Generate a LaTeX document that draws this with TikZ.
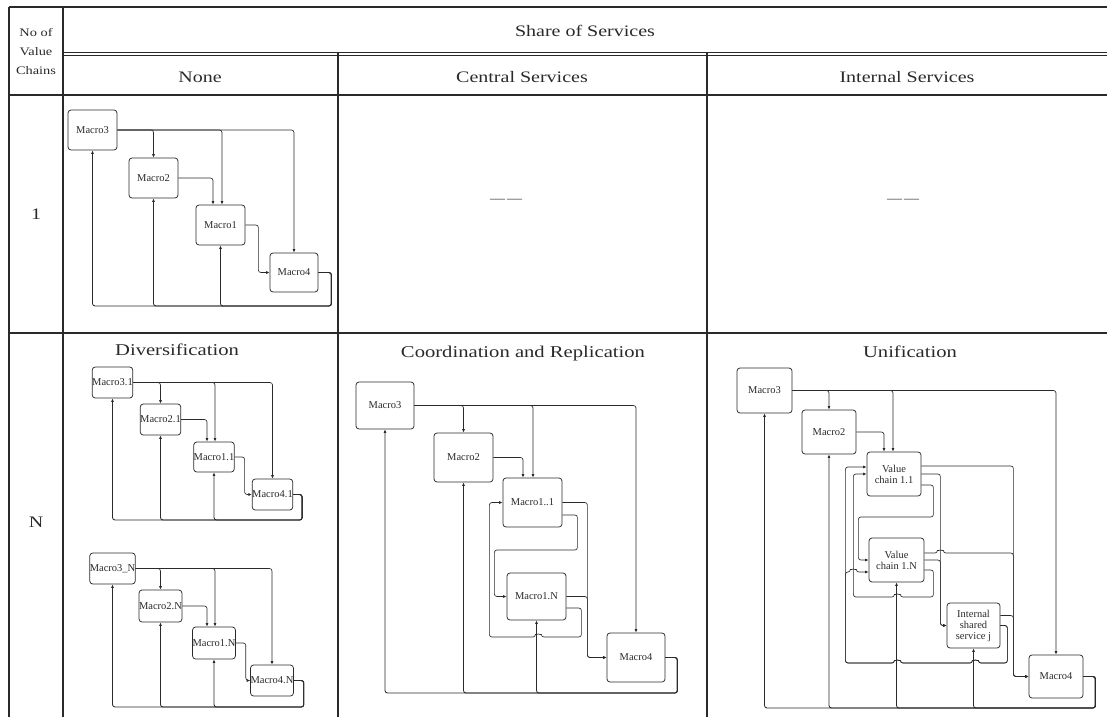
\documentclass[tikz,border=0pt]{standalone}
\usepackage{fontspec}
\setmainfont{Liberation Serif}
\newfontfamily\wide[FakeStretch=1.25]{Liberation Serif}
\usetikzlibrary{arrows.meta,calc}
\definecolor{ink}{HTML}{2A2A2A}
\begin{document}
\begin{tikzpicture}[x=1pt,y=-1pt,
  grid/.style={line width=1.4pt, ink},
  box/.style={draw=ink, rounded corners=3pt, line width=0.75pt, inner sep=0pt,
    align=center, text=ink, font=\fontsize{10.5}{11}\selectfont},
  link/.style={draw=ink, line width=0.65pt, rounded corners=2.5pt,
    -{Latex[length=3.5pt,width=3pt]}},
  fback/.style={link, line width=0.85pt},
  head/.style={text=ink, font=\wide\fontsize{16}{18}\selectfont},
  title/.style={text=ink, font=\wide\fontsize{16.5}{18}\selectfont},
  side/.style={text=ink, align=center, font=\wide\fontsize{11.5}{19}\selectfont},
  void/.style={text=black!60, font=\wide\bfseries\fontsize{12}{14}\selectfont}]
\useasboundingbox (0,0) rectangle (1107,717);

% ---------- table frame ----------
\draw[grid] (9,7) -- (1107,7);
\draw[grid] (9,7) -- (9,717);
\draw[grid] (63,7) -- (63,717);
\draw[grid] (63,52.5) -- (1107,52.5);
\draw[ink, line width=0.6pt] (63,55.5) -- (1107,55.5);
\draw[grid] (9,95) -- (1107,95);
\draw[grid] (9,333) -- (1107,333);
\draw[grid] (338,53) -- (338,717);
\draw[grid] (707,53) -- (707,717);

% ---------- headers ----------
\node[side] (hdrA) at (36,52) {No of\\Value\\Chains};
\node[head] (hdrB) at (585,31) {Share of Services};
\node[head] (hdrC) at (200,77) {None};
\node[head] (hdrD) at (522,77) {Central Services};
\node[head] (hdrE) at (907,77) {Internal Services};
\node[head] (row1) at (36,214) {1};
\node[head] (rowN) at (36,522) {N};
\node[void] (emptyC) at (506,201) {—\kern2pt—};
\node[void] (emptyI) at (903,201) {—\kern2pt—};
\node[title, anchor=base] (tDiv) at (177,355) {Diversification};
\node[title, anchor=base] (tCoo) at (523,357) {Coordination and Replication};
\node[title, anchor=base] (tUni) at (910,357) {Unification};

% ---------- one value chain, no shared services ----------
\node[box, minimum width=49pt, minimum height=40pt] (a3) at (92.5,130) {Macro3};
\node[box, minimum width=49pt, minimum height=40pt] (a2) at (153.5,178) {Macro2};
\node[box, minimum width=49pt, minimum height=40pt] (a1) at (220.5,225) {Macro1};
\node[box, minimum width=48pt, minimum height=39pt] (a4) at (294,272.5) {Macro4};
\draw[link] (a3.east) -| (a4.north);
\draw[link] (a3.east) -| (a2.north);
\draw[link] (a3.east) -| ($(a1.north)+(1.5,0)$);
\draw[link] (a2.east) -| ($(a1.north)+(-7.5,0)$);
\draw[link] (a1.east) -- ++(13,0) |- (a4.west);
\draw[fback] (a4.east) -- ++(13,0) -- ++(0,33.5) -| (a3.south);
\draw[fback] (a4.east) -- ++(13,0) -- ++(0,33.5) -| (a2.south);
\draw[fback] (a4.east) -- ++(13,0) -- ++(0,33.5) -| (a1.south);

% ---------- diversification: chain 1 ----------
\node[box, minimum width=39pt, minimum height=31pt] (d3) at (112.5,382.5) {Macro3.1};
\node[box, minimum width=37pt, minimum height=31pt] (d2) at (160.5,419.5) {Macro2.1};
\node[box, minimum width=38pt, minimum height=30pt] (d1) at (214,457) {Macro1.1};
\node[box, minimum width=39pt, minimum height=31pt] (d4) at (272.5,494.5) {Macro4.1};
\draw[link] (d3.east) -| (d4.north);
\draw[link] (d3.east) -| (d2.north);
\draw[link] (d3.east) -| ($(d1.north)+(1,0)$);
\draw[link] (d2.east) -| ($(d1.north)+(-7,0)$);
\draw[link] (d1.east) -- ++(10,0) |- (d4.west);
\draw[fback] (d4.east) -- ++(9,0) -- ++(0,25.5) -| (d3.south);
\draw[fback] (d4.east) -- ++(9,0) -- ++(0,25.5) -| (d2.south);
\draw[fback] (d4.east) -- ++(9,0) -- ++(0,25.5) -| (d1.south);

% ---------- diversification: chain N ----------
\node[box, minimum width=39pt, minimum height=31pt] (e3) at (112.5,568.5) {Macro3\_N};
\node[box, minimum width=37pt, minimum height=32pt] (e2) at (160.5,606) {Macro2.N};
\node[box, minimum width=38pt, minimum height=32pt] (e1) at (214,643) {Macro1.N};
\node[box, minimum width=38pt, minimum height=31pt] (e4) at (272,680.5) {Macro4.N};
\draw[link] (e3.east) -| (e4.north);
\draw[link] (e3.east) -| (e2.north);
\draw[link] (e3.east) -| ($(e1.north)+(1,0)$);
\draw[link] (e2.east) -| ($(e1.north)+(-7,0)$);
\draw[link] (e1.east) -- ++(10,0) |- (e4.west);
\draw[fback] (e4.east) -- ++(10,0) -- ++(0,26.5) -| (e3.south);
\draw[fback] (e4.east) -- ++(10,0) -- ++(0,26.5) -| (e2.south);
\draw[fback] (e4.east) -- ++(10,0) -- ++(0,26.5) -| (e1.south);

% ---------- coordination and replication ----------
\node[box, minimum width=58pt, minimum height=47pt] (c3) at (385,405.5) {Macro3};
\node[box, minimum width=59pt, minimum height=49pt] (c2) at (463.5,457.5) {Macro2};
\node[box, minimum width=59pt, minimum height=49pt] (c11) at (532.5,502.5) {Macro1..1};
\node[box, minimum width=59pt, minimum height=47pt] (c1n) at (536.5,596.5) {Macro1.N};
\node[box, minimum width=58pt, minimum height=49pt] (c4) at (636,657.5) {Macro4};
\draw[link] (c3.east) -| (c4.north);
\draw[link] (c3.east) -| (c2.north);
\draw[link] (c3.east) -| ($(c11.north)+(0.5,0)$);
\draw[link] (c2.east) -| ($(c11.north)+(-9.5,0)$);
\draw[link] (c11.east) -- ++(25,0) |- (c4.west);
\draw[link] (c1n.east) -- ++(21,0) |- (c4.west);
\draw[link] ($(c11.east)+(0,12.5)$) -- ++(15,0) -- ++(0,35) -- ++(-83,0) |- (c1n.west);
\draw[link] ($(c1n.east)+(0,11.5)$) -- ++(15,0) -- ++(0,29) -- ++(-40,0)
  arc[start angle=0, end angle=180, radius=3pt] -- ++(-46,0) |- (c11.west);
\draw[fback] (c4.east) -- ++(12,0) -- ++(0,35.5) -| (c3.south);
\draw[fback] (c4.east) -- ++(12,0) -- ++(0,35.5) -| (c2.south);
\draw[fback] (c4.east) -- ++(12,0) -- ++(0,35.5) -| (c1n.south);

% ---------- unification ----------
\node[box, minimum width=55pt, minimum height=45pt] (u3) at (764.5,390.5) {Macro3};
\node[box, minimum width=54pt, minimum height=44pt] (u2) at (829,432) {Macro2};
\node[box, minimum width=54pt, minimum height=44pt] (v1) at (894,474) {Value\\chain 1.1};
\node[box, minimum width=55pt, minimum height=44pt] (vn) at (896.5,560) {Value\\chain 1.N};
\node[box, minimum width=53pt, minimum height=45pt] (is) at (973.5,625.5) {Internal\\shared\\service j};
\node[box, minimum width=54pt, minimum height=43pt] (u4) at (1056,676.5) {Macro4};
\draw[link] (u3.east) -| (u4.north);
\draw[link] (u3.east) -| (u2.north);
\draw[link] (u3.east) -| ($(v1.north)+(-1,0)$);
\draw[link] (u2.east) -| ($(v1.north)+(-10,0)$);
% outputs of the chains and the shared service towards Macro4
\draw[link] ($(v1.east)+(0,-8)$) -- ++(92,0) |- (u4.west);
\draw[link] ($(vn.east)+(0,-7)$) -- ++(13,0)
  arc[start angle=180, end angle=0, radius=3pt] -- ++(70,0) |- (u4.west);
\draw[link] ($(is.east)+(0,-10)$) -- ++(13,0) |- (u4.west);
% chains feeding the internal shared service
\draw[link] (v1.east) -- ++(19,0) |- (is.west);
\draw[link] (vn.east) -- ++(16,0) |- (is.west);
% exchange between the two chains
\draw[link] ($(v1.east)+(0,11)$) -- ++(12,0) -- ++(0,32) -- ++(-75,0) |- (vn.west);
\draw[link] ($(vn.east)+(0,10)$) -- ++(9,0) -- ++(0,27) -- ++(-33,0)
  arc[start angle=0, end angle=180, radius=3pt] -- ++(-41,0) |- (v1.west);
% shared service back to the chains
\draw[link] (is.east) -- ++(7,0) -- ++(0,37.5) -- ++(-29,0)
  arc[start angle=0, end angle=180, radius=3pt] -- ++(-72,0)
  arc[start angle=0, end angle=180, radius=3pt] -- ++(-49,0)
  |- ($(v1.west)+(0,-7)$);
\draw[link] (is.east) -- ++(7,0) -- ++(0,37.5) -- ++(-29,0)
  arc[start angle=0, end angle=180, radius=3pt] -- ++(-72,0)
  arc[start angle=0, end angle=180, radius=3pt] -- ++(-49,0)
  -- ++(0,-91) -- ++(5,0) arc[start angle=180, end angle=0, radius=3pt]
  -- ($(vn.west)+(0,12)$);
% feedback from Macro4
\draw[fback] (u4.east) -- ++(12,0) -- ++(0,31.5) -| (u3.south);
\draw[fback] (u4.east) -- ++(12,0) -- ++(0,31.5) -| (u2.south);
\draw[fback] (u4.east) -- ++(12,0) -- ++(0,31.5) -| (vn.south);
\draw[fback] (u4.east) -- ++(12,0) -- ++(0,31.5) -| (is.south);
\end{tikzpicture}
\end{document}
